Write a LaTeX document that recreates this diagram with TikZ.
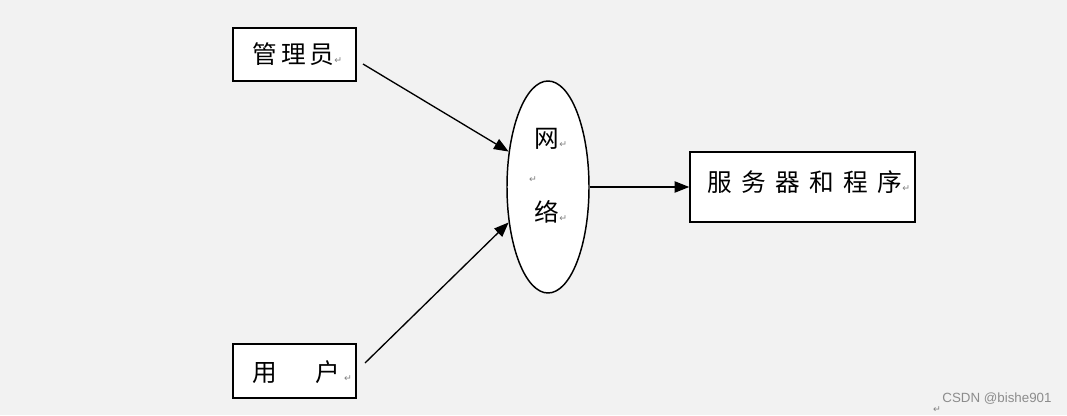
\documentclass[tikz,border=0pt]{standalone}
\usepackage{fontspec}
\usepackage{xcolor}
\usetikzlibrary{shapes.geometric,arrows.meta}
\newfontfamily\cjk{Noto Sans CJK SC}
\newfontfamily\symfont{DejaVu Sans}
\newfontfamily\markfont{Liberation Sans}
\definecolor{bgcol}{HTML}{F2F2F2}
\newcommand{\pmark}{{\symfont\fontsize{7}{7}\selectfont\color{gray}↵}}

\begin{document}
\begin{tikzpicture}[x=0.75pt, y=-0.75pt, thick,
  box/.style = {draw, line width=1.1pt, fill=white, inner sep=0pt},
  txt/.style = {font=\cjk\fontsize{18.5}{18.5}\selectfont, inner sep=0pt},
  arr/.style = {-{Triangle[length=11pt,width=8.5pt]}, line width=1pt}]
  \fill[bgcol] (0,0) rectangle (1067,415);

  % boxes and the network
  \node[box, minimum width=92.25pt, minimum height=39.75pt] (admin) at (294.5,54.5) {};
  \node[box, minimum width=92.25pt, minimum height=40.5pt] (user) at (294.5,371) {};
  \node[box, minimum width=168.75pt, minimum height=52.5pt] (server) at (802.5,187) {};
  \node[draw, ellipse, line width=1.1pt, fill=white, inner sep=0pt,
        minimum width=61.5pt, minimum height=159pt] (net) at (548,187) {};

  % texts
  \node[txt, anchor=west] (admintxt) at (252,54) {\addfontfeature{LetterSpace=16}管理员\pmark};
  \node[txt, anchor=west] (usertxt) at (252,372) {用\hspace{1.55em}户\,\pmark};
  \node[txt, anchor=west] (servertxt) at (707,182) {\addfontfeature{LetterSpace=38}服务器和程序\pmark};
  \node[txt] (wang) at (551,139) {网\pmark};
  \node[inner sep=0pt] (blank) at (533,180) {\pmark};
  \node[txt] (luo) at (551,212) {络\pmark};

  % connectors
  \coordinate (a1) at (363,64);
  \coordinate (a2) at (365,363);
  \draw[arr] (a1) -- (net.138);
  \draw[arr] (a2) -- (net.222);
  \draw[arr] (net.east) -- (server.west);

  % watermark
  \node[inner sep=0pt, text=black!45, font=\markfont\fontsize{10}{10}\selectfont] (wm) at (997,399) {CSDN @bishe901};
  \node[inner sep=0pt] (wmark) at (937,410) {\pmark};
\end{tikzpicture}
\end{document}
